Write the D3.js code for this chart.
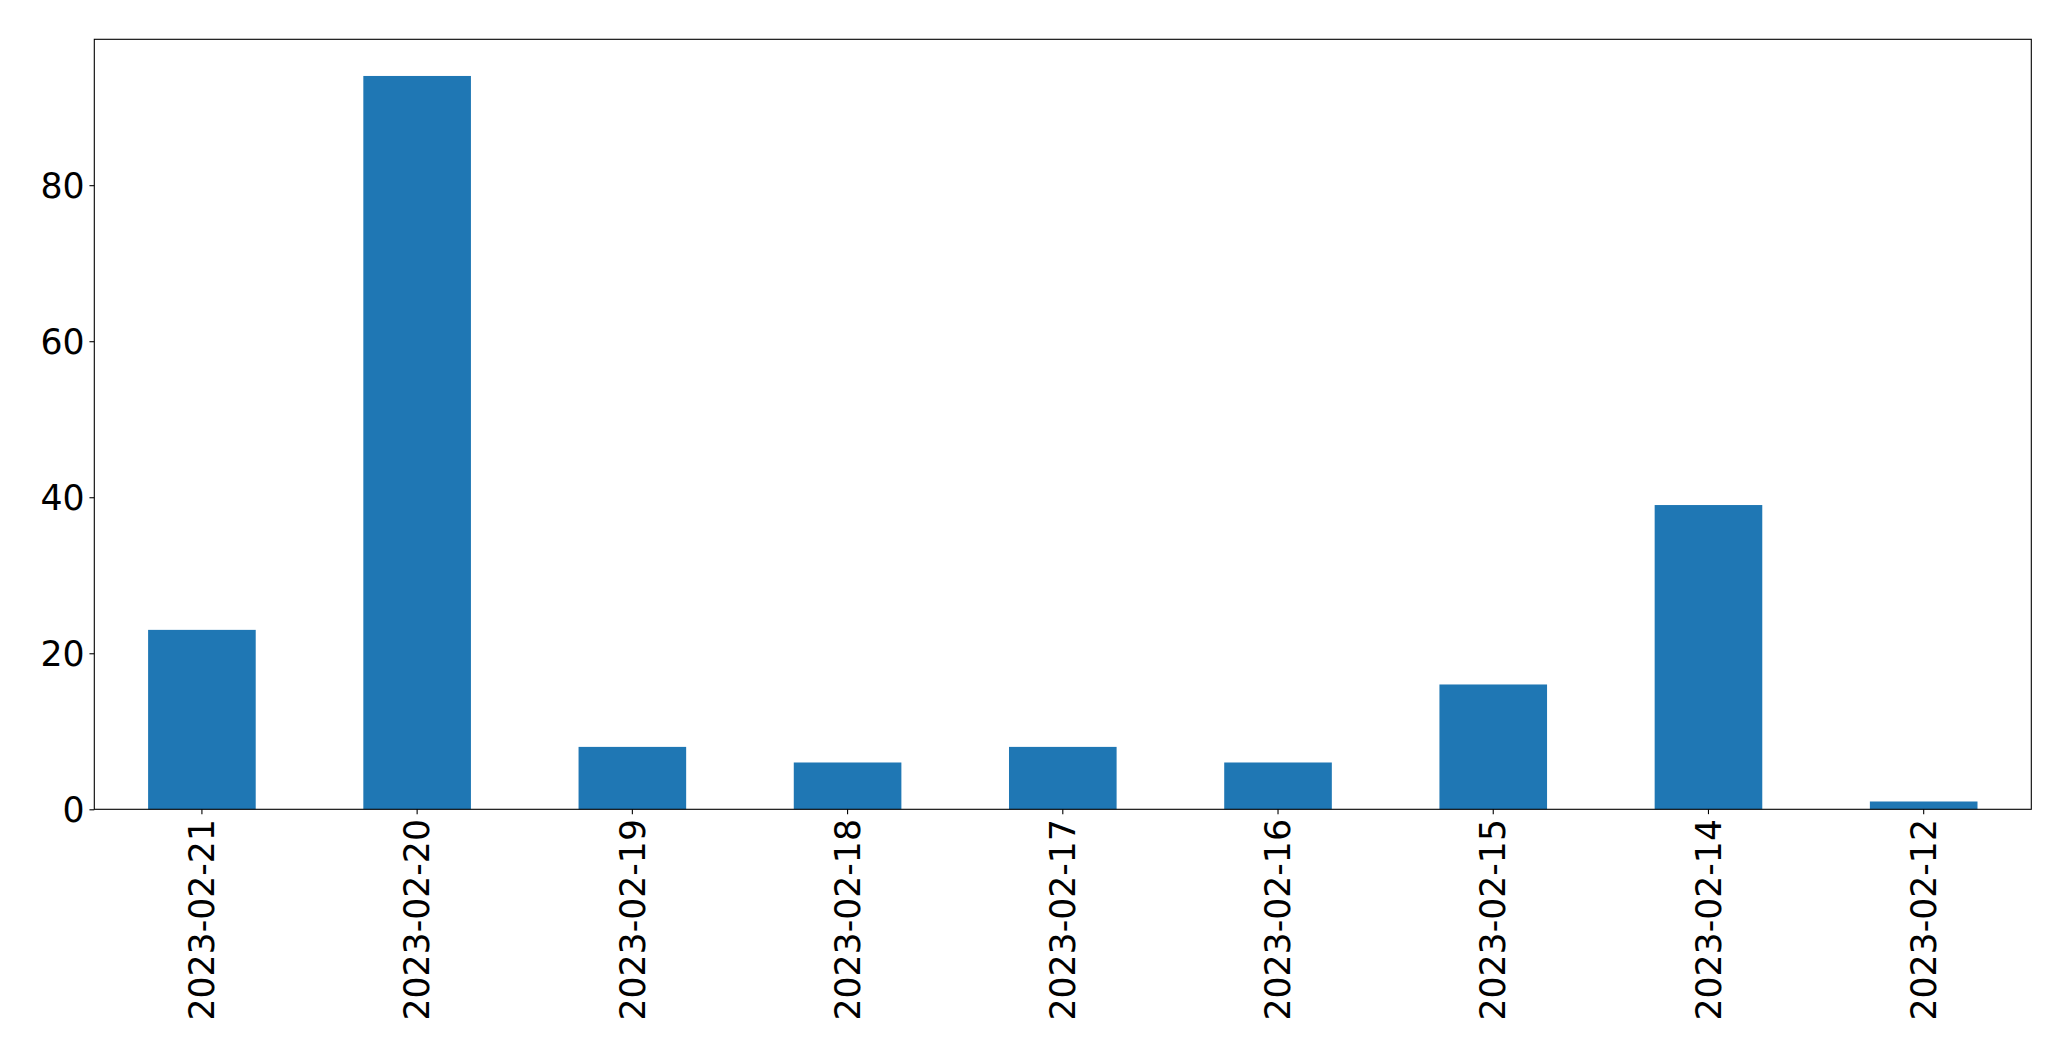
<!DOCTYPE html>
<html><head><meta charset="utf-8">
<script src="https://cdn.jsdelivr.net/npm/d3@7"></script>
<style>html,body{margin:0;padding:0;background:#fff;}svg{display:block;}</style>
</head><body>
<script>
const categories = ["2023-02-21","2023-02-20","2023-02-19","2023-02-18","2023-02-17","2023-02-16","2023-02-15","2023-02-14","2023-02-12"];
const values = [23, 94, 8, 6, 8, 6, 16, 39, 1];
const yTicks = [0, 20, 40, 60, 80];

const W = 2071, H = 1061;
const m = {left: 94.3, top: 39.3, right: 2071 - 2031.3, bottom: 1061 - 809.3};
const fs = 34.7, tickLen = 4.86, pad = 4.86;

const svg = d3.select("body").append("svg").attr("width", W).attr("height", H);

const x = d3.scaleBand().domain(categories).range([m.left, W - m.right]).paddingInner(0).paddingOuter(0);
const y = d3.scaleLinear().domain([0, d3.max(values) * 1.05]).range([H - m.bottom, m.top]);

svg.append("g").selectAll("rect").data(values).join("rect")
  .attr("x", (d, i) => x(categories[i]) + x.bandwidth() * 0.25)
  .attr("width", x.bandwidth() * 0.5)
  .attr("y", d => y(d))
  .attr("height", d => y(0) - y(d))
  .attr("fill", "#1f77b4");

const yAxis = svg.append("g").attr("transform", `translate(${m.left},0)`)
  .call(d3.axisLeft(y).tickValues(yTicks).tickSize(tickLen).tickPadding(pad).tickFormat(d3.format("d")));
const xAxis = svg.append("g").attr("transform", `translate(0,${H - m.bottom})`)
  .call(d3.axisBottom(x).tickSize(tickLen).tickPadding(pad));

[yAxis, xAxis].forEach(g => {
  g.select(".domain").remove();
  g.selectAll(".tick line").attr("stroke", "#000").attr("stroke-width", 1.1);
  g.selectAll(".tick text").attr("fill", "#000").style("font-family", "'DejaVu Sans'").style("font-size", fs + "px");
});
yAxis.selectAll(".tick text").attr("dy", "0.35em");
xAxis.selectAll(".tick text")
  .attr("transform", `translate(0,${tickLen + pad}) rotate(-90)`)
  .attr("x", 0).attr("y", 0).attr("dy", "0.35em")
  .attr("text-anchor", "end");

svg.append("rect").attr("x", m.left).attr("y", m.top)
  .attr("width", W - m.left - m.right).attr("height", H - m.top - m.bottom)
  .attr("fill", "none").attr("stroke", "#000").attr("stroke-width", 1.1);
</script>
</body></html>
